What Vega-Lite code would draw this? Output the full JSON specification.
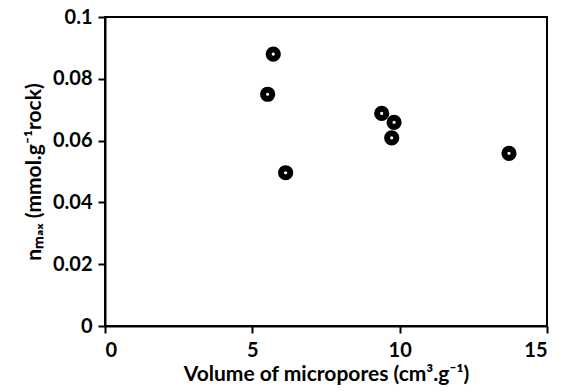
{
  "$schema": "https://vega.github.io/schema/vega-lite/v6.json",
  "autosize": "none",
  "width": 442,
  "height": 309,
  "padding": {"left": 105, "top": 17, "right": 24, "bottom": 65},
  "config": {
    "font": "Lato",
    "view": {"stroke": "#000", "strokeWidth": 2},
    "axis": {
      "domainColor": "#000", "domainWidth": 2, "tickColor": "#000", "tickWidth": 2, "tickSize": 7,
      "labelFont": "Lato", "labelFontWeight": "bold", "labelFontSize": 20, "labelColor": "#000", "labelPadding": 6,
      "titleFont": "Lato", "titleFontWeight": "bold", "titleFontSize": 21, "titleColor": "#000", "grid": false
    }
  },
  "data": {"values": [
    {"v": 5.71, "n": 0.088},
    {"v": 5.52, "n": 0.075},
    {"v": 9.39, "n": 0.0688},
    {"v": 9.81, "n": 0.0659},
    {"v": 9.73, "n": 0.0609},
    {"v": 6.13, "n": 0.0496},
    {"v": 13.71, "n": 0.0559}
  ]},
  "mark": {"type": "point", "shape": "circle", "filled": false, "fill": "#fff", "fillOpacity": 1, "stroke": "#000", "strokeWidth": 6, "size": 85, "opacity": 1},
  "encoding": {
    "x": {"field": "v", "type": "quantitative", "scale": {"domain": [0, 15], "nice": false, "zero": true},
      "axis": {"values": [0, 5, 10, 15], "format": "d", "title": "Volume of micropores (cm³.g⁻¹)", "titlePadding": 3, "labelPadding": 7}},
    "y": {"field": "n", "type": "quantitative", "scale": {"domain": [0, 0.1], "nice": false},
      "axis": {"values": [0, 0.02, 0.04, 0.06, 0.08, 0.1], "format": ".2~f", "title": "nₘₐₓ (mmol.g⁻¹rock)", "titlePadding": 8, "titleFontSize": 21}}
  }
}
